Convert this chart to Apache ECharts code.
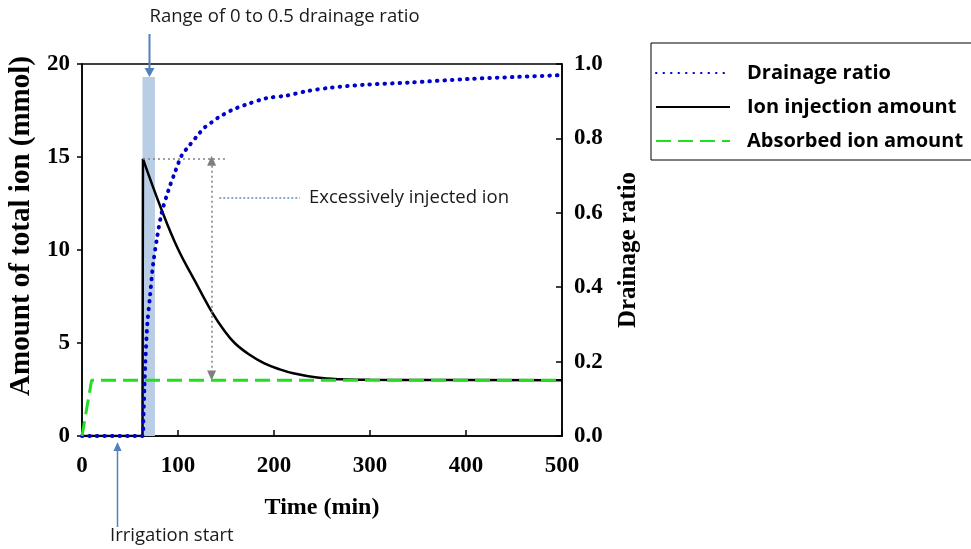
<!DOCTYPE html>
<html>
<head>
<meta charset="utf-8">
<script src="https://cdn.jsdelivr.net/npm/echarts@6/dist/echarts.min.js"></script>
<style>
html,body{margin:0;padding:0;background:#fff;}
#chart{width:971px;height:549px;}
</style>
</head>
<body>
<div id="chart"></div>
<script>
// ---- Data ----
// Ion injection amount: zero until irrigation water reaches drainage, then a jump and a decay
const ionStepTime   = [0, 63, 63.5];
const ionStepAmount = [0, 0, 14.9];
const ionDecayTime   = [63.5, 83, 100, 118, 136, 147, 159, 175, 190, 205, 220, 245, 270, 300, 350, 500];
const ionDecayAmount = [14.9, 12.15, 10.05, 8.3, 6.6, 5.75, 5.0, 4.35, 3.9, 3.6, 3.37, 3.14, 3.05, 3.02, 3.01, 3.0];

const drainTime  = [0, 63, 64, 65, 66, 68, 71, 74, 78, 83, 90, 97, 104, 110, 121, 128, 135, 142, 156, 170, 192, 213, 234, 258, 293, 340, 404, 450, 500];
const drainRatio = [0, 0, 0.05, 0.13, 0.2, 0.3, 0.38, 0.46, 0.53, 0.6, 0.66, 0.71, 0.755, 0.775, 0.81, 0.83, 0.843, 0.856, 0.876, 0.89, 0.908, 0.915, 0.927, 0.936, 0.944, 0.95, 0.96, 0.965, 0.97];

const absorbTime   = [0, 10, 500];
const absorbAmount = [0, 3, 3];

const bandRange = [63, 76];      // time range of 0 to 0.5 drainage ratio
const bandTop = 19.3;
const peakLevel = 14.9;
const baseLevel = 3.0;
const irrigationTime = 36;

const seriesNames = ['Drainage ratio', 'Ion injection amount', 'Absorbed ion amount'];

const zip = (a, b) => a.map((v, i) => [v, b[i]]);

const serif = "'Liberation Serif', 'Times New Roman', serif";
const sans = "'Open Sans', 'Liberation Sans', Arial, sans-serif";
const arrowBlue = '#4f81bd';

const chart = echarts.init(document.getElementById('chart'), null, {renderer: 'canvas'});

const ionLine = {color: '#000', width: 2.5};

const option = {
  animation: false,
  backgroundColor: '#fff',
  grid: {left: 82, right: 409, top: 64, bottom: 113, show: true, borderColor: '#000', borderWidth: 1.5, backgroundColor: 'transparent'},
  legend: {
    orient: 'vertical',
    left: 651, top: 43,
    data: seriesNames,
    itemWidth: 74, itemHeight: 14,
    itemGap: 12,
    padding: [19, 40, 8, 4],
    borderColor: '#000', borderWidth: 1,
    backgroundColor: '#fff',
    itemStyle: {opacity: 0},
    textStyle: {fontFamily: sans, fontWeight: 'bold', fontSize: 20, color: '#000', padding: [0, 0, 0, 12], lineHeight: 22}
  },
  xAxis: {
    type: 'value', min: 0, max: 500, interval: 100,
    axisLine: {show: true, lineStyle: {color: '#000', width: 1.5}},
    axisTick: {show: true, inside: true, length: 6, lineStyle: {color: '#000', width: 1.5}},
    splitLine: {show: false},
    axisLabel: {fontFamily: serif, fontWeight: 'bold', fontSize: 23, color: '#000', margin: 19},
    name: 'Time (min)', nameLocation: 'middle', nameGap: 60,
    nameTextStyle: {fontFamily: serif, fontWeight: 'bold', fontSize: 24, color: '#000'}
  },
  yAxis: [{
    type: 'value', min: 0, max: 20, interval: 5, position: 'left',
    axisLine: {show: true, lineStyle: {color: '#000', width: 1.5}},
    axisTick: {show: true, inside: false, length: 5, lineStyle: {color: '#000', width: 1.5}},
    splitLine: {show: false},
    axisLabel: {fontFamily: serif, fontWeight: 'bold', fontSize: 23, color: '#000', margin: 12},
    name: 'Amount of total ion (mmol)', nameLocation: 'middle', nameRotate: 90, nameGap: 46,
    nameTextStyle: {fontFamily: serif, fontWeight: 'bold', fontSize: 29, color: '#000', padding: [0, 0, 0, 48]}
  }, {
    type: 'value', min: 0, max: 1, interval: 0.2, position: 'right',
    axisLine: {show: true, lineStyle: {color: '#000', width: 1.5}},
    axisTick: {show: true, inside: true, length: 6, lineStyle: {color: '#000', width: 1.5}},
    splitLine: {show: false},
    axisLabel: {fontFamily: serif, fontWeight: 'bold', fontSize: 23, color: '#000', margin: 12, formatter: v => v.toFixed(1)},
    name: 'Drainage ratio', nameLocation: 'middle', nameRotate: 90, nameGap: 54,
    nameTextStyle: {fontFamily: serif, fontWeight: 'bold', fontSize: 25, color: '#000'}
  }],
  series: [{
    name: 'Ion injection amount', type: 'line', yAxisIndex: 0,
    data: zip(ionStepTime, ionStepAmount),
    symbol: 'none', smooth: false, z: 3,
    lineStyle: ionLine,
    itemStyle: {color: '#000'},
    markArea: {
      silent: true,
      itemStyle: {color: '#b9cde5'},
      data: [[{coord: [bandRange[0], 0]}, {coord: [bandRange[1], bandTop]}]]
    },
    markLine: {
      silent: true, animation: false,
      symbol: 'none',
      label: {show: false},
      data: [
        [{coord: [bandRange[0] + 0.5, peakLevel], lineStyle: {color: '#7f7f7f', type: [2, 3], width: 1.5}},
         {coord: [150, peakLevel]}],
        [{coord: [135, peakLevel - 0.1], symbol: 'triangle', symbolSize: [9, 10], lineStyle: {color: '#7f7f7f', type: [2, 3], width: 1.5}},
         {coord: [135, baseLevel + 0.25], symbol: 'triangle', symbolSize: [9, 10]}],
        [{coord: [143, 12.8], lineStyle: {color: '#5b8fc7', type: [2, 2], width: 1.5},
          label: {show: true, position: 'end', formatter: 'Excessively injected ion', distance: 9,
                  fontFamily: sans, fontSize: 18.5, color: '#1a1a1a'}},
         {coord: [227, 12.8]}]
      ]
    }
  }, {
    name: 'Ion injection amount', type: 'line', yAxisIndex: 0,
    data: zip(ionDecayTime, ionDecayAmount),
    symbol: 'none', smooth: 0.4, z: 3,
    lineStyle: ionLine,
    itemStyle: {color: '#000'}
  }, {
    name: 'Drainage ratio', type: 'line', yAxisIndex: 1,
    data: zip(drainTime, drainRatio),
    symbol: 'none', smooth: 0.3, z: 4,
    lineStyle: {color: '#0000cc', width: 4, type: [0.5, 7], cap: 'round'},
    itemStyle: {color: '#0000cc'}
  }, {
    name: 'Absorbed ion amount', type: 'line', yAxisIndex: 0,
    data: zip(absorbTime, absorbAmount),
    symbol: 'none', z: 5,
    lineStyle: {color: '#22dd22', width: 3, type: [15, 7]},
    itemStyle: {color: '#22dd22'}
  }]
};

chart.setOption(option);

// annotations outside the plotting area, anchored via axis conversion
const topArrow = chart.convertToPixel({gridIndex: 0}, [(bandRange[0] + bandRange[1]) / 2, bandTop]);
const irrPt = chart.convertToPixel({gridIndex: 0}, [irrigationTime, 0]);
const ax = Math.round(topArrow[0]) + 0.5;
const ix = Math.round(irrPt[0]) + 0.5;

chart.setOption({
  graphic: [
    {type: 'text', left: ax, top: 7, style: {text: 'Range of 0 to 0.5 drainage ratio', font: "18.5px " + sans, fill: '#1a1a1a'}},
    {type: 'line', shape: {x1: ax, y1: 34, x2: ax, y2: topArrow[1] - 6}, style: {stroke: arrowBlue, lineWidth: 2}},
    {type: 'polygon', shape: {points: [[ax - 5, topArrow[1] - 9], [ax + 5, topArrow[1] - 9], [ax, topArrow[1]]]}, style: {fill: arrowBlue}},
    {type: 'line', shape: {x1: ix, y1: irrPt[1] + 14, x2: ix, y2: 527}, style: {stroke: arrowBlue, lineWidth: 1.5}},
    {type: 'polygon', shape: {points: [[ix - 4, irrPt[1] + 15], [ix + 4, irrPt[1] + 15], [ix, irrPt[1] + 6]]}, style: {fill: arrowBlue}},
    {type: 'text', left: 110, top: 526, style: {text: 'Irrigation start', font: "18.5px " + sans, fill: '#1a1a1a'}}
  ]
});
</script>
</body>
</html>
